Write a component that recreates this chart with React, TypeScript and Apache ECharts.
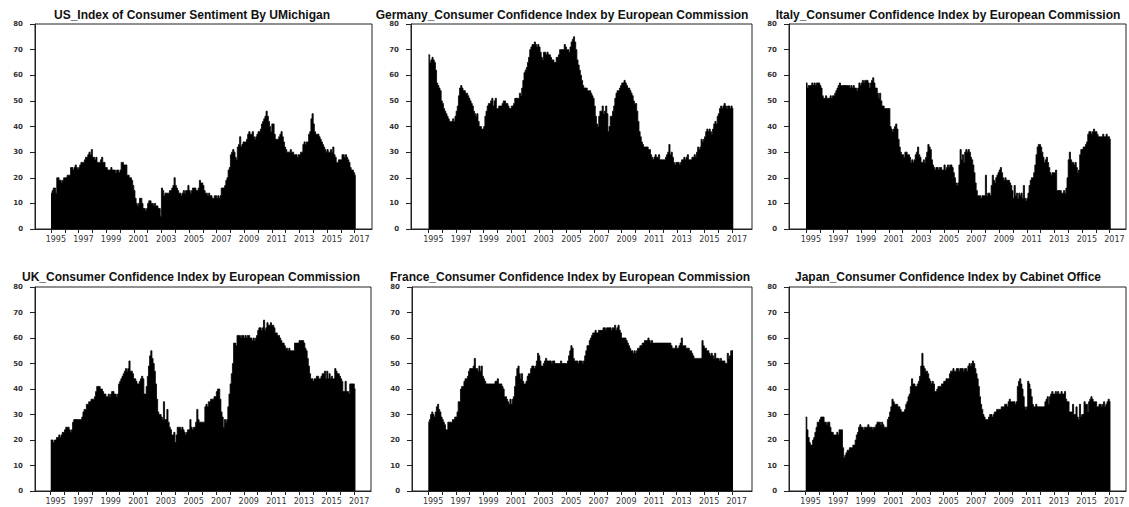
import React, { useEffect, useRef } from "react";
import * as echarts from "echarts";

const startYear = 1995;
const tickYears = [1995, 1996, 1997, 1998, 1999, 2000, 2001, 2002, 2003, 2004, 2005, 2006, 2007, 2008, 2009, 2010, 2011, 2012, 2013, 2014, 2015, 2016, 2017];
const labelYears = [1995, 1997, 1999, 2001, 2003, 2005, 2007, 2009, 2011, 2013, 2015, 2017];
const yTicks = [0, 10, 20, 30, 40, 50, 60, 70, 80];

const titles = [
  "US_Index of Consumer Sentiment By UMichigan",
  "Germany_Consumer Confidence Index by European Commission",
  "Italy_Consumer Confidence Index by European Commission",
  "UK_Consumer Confidence Index by European Commission",
  "France_Consumer Confidence Index by European Commission",
  "Japan_Consumer Confidence Index by Cabinet Office",
];

// monthly values, Jan 1995 .. Feb 2017
const usData = [
  14, 15, 16, 16, 14, 20, 20, 19, 19, 18, 19, 20,
  20, 20, 21, 21, 21, 24, 24, 23, 24, 25, 24, 23,
  24, 25, 26, 26, 26, 27, 28, 28, 29, 30, 29, 31,
  28, 28, 27, 28, 26, 26, 26, 27, 28, 26, 26, 24,
  24, 23, 23, 23, 24, 23, 23, 23, 22, 23, 23, 22,
  23, 26, 26, 25, 25, 25, 21, 21, 20, 20, 19, 17,
  15, 12, 10, 9, 10, 12, 12, 10, 8, 8, 7, 8,
  10, 11, 11, 10, 10, 9, 10, 9, 9, 8, 8, 5,
  16, 15, 13, 14, 14, 14, 14, 15, 15, 16, 17, 20,
  17, 16, 15, 14, 14, 13, 14, 15, 14, 15, 15, 17,
  15, 14, 15, 16, 16, 16, 15, 15, 16, 19, 18, 18,
  17, 15, 14, 14, 13, 14, 13, 13, 12, 12, 13, 13,
  12, 13, 12, 13, 16, 16, 16, 17, 19, 20, 23, 24,
  29, 30, 31, 30, 28, 27, 32, 33, 36, 32, 33, 34,
  34, 34, 35, 37, 38, 37, 37, 38, 36, 35, 36, 37,
  38, 38, 39, 41, 42, 43, 44, 46, 44, 42, 40, 38,
  41, 41, 37, 35, 35, 35, 36, 37, 38, 36, 34, 32,
  31, 30, 30, 30, 31, 30, 30, 29, 29, 29, 28, 29,
  29, 30, 30, 33, 34, 33, 34, 34, 37, 38, 43, 45,
  41, 38, 37, 37, 37, 36, 35, 34, 33, 32, 31, 30,
  31, 30, 30, 31, 30, 32, 29, 28, 26, 26, 27, 27,
  27, 29, 29, 28, 29, 28, 27, 26, 24, 23, 23, 22,
  21, 21,
];

const germanyData = [
  68, 65, 66, 67, 66, 65, 62, 57, 56, 55, 54, 50,
  49, 47, 46, 45, 44, 43, 42, 42, 42, 43, 42, 44,
  46, 48, 52, 55, 56, 55, 54, 54, 53, 53, 52, 51,
  50, 49, 48, 46, 45, 44, 45, 42, 40, 40, 39, 39,
  40, 44, 46, 48, 49, 49, 50, 51, 48, 50, 51, 47,
  47, 48, 48, 48, 49, 50, 50, 49, 49, 48, 47, 47,
  48, 48, 49, 51, 51, 51, 51, 53, 52, 55, 58, 61,
  62, 63, 65, 67, 70, 71, 72, 72, 73, 72, 71, 72,
  71, 69, 67, 66, 69, 69, 68, 69, 68, 68, 67, 66,
  66, 65, 65, 67, 67, 68, 70, 70, 70, 70, 72, 71,
  70, 70, 69, 71, 73, 74, 75, 73, 70, 66, 64, 62,
  60, 58, 56, 55, 55, 55, 54, 54, 54, 53, 52, 51,
  48, 44, 41, 40, 44, 46, 46, 48, 45, 46, 48, 45,
  38, 40, 44, 44, 46, 48, 51, 53, 54, 54, 55, 56,
  57, 57, 58, 57, 56, 55, 55, 54, 53, 52, 50, 49,
  49, 46, 42, 38, 36, 34, 33, 32, 32, 32, 32, 31,
  31, 29, 28, 27, 28, 29, 28, 28, 29, 27, 27, 27,
  27, 27, 28, 29, 30, 33, 29, 30, 28, 26, 25, 26,
  26, 26, 25, 26, 27, 27, 28, 27, 28, 29, 27, 27,
  27, 28, 28, 29, 28, 30, 32, 31, 32, 35, 34, 35,
  36, 38, 39, 38, 39, 38, 37, 39, 41, 42, 41, 44,
  45, 47, 48, 47, 48, 49, 48, 47, 48, 48, 47, 48,
  47, 47,
];

const italyData = [
  57, 55, 56, 56, 56, 57, 56, 57, 56, 57, 57, 57,
  56, 55, 52, 51, 51, 52, 51, 51, 51, 52, 51, 52,
  52, 53, 54, 55, 56, 57, 56, 56, 56, 56, 56, 56,
  56, 56, 55, 56, 55, 56, 55, 55, 54, 55, 57, 56,
  57, 58, 57, 58, 58, 58, 57, 55, 57, 58, 59, 57,
  55, 55, 53, 51, 53, 50, 48, 48, 47, 47, 47, 47,
  47, 40, 39, 38, 39, 40, 41, 39, 35, 32, 30, 29,
  29, 28, 30, 30, 29, 29, 28, 26, 27, 26, 27, 29,
  30, 32, 29, 28, 26, 26, 27, 26, 28, 30, 33, 32,
  31, 27, 25, 24, 23, 24, 24, 23, 24, 24, 23, 23,
  25, 23, 24, 25, 24, 25, 25, 24, 22, 20, 18, 17,
  18, 25, 31, 27, 29, 26, 30, 31, 30, 31, 30, 28,
  27, 25, 22, 18, 15, 13, 13, 13, 12, 13, 13, 13,
  21, 13, 14, 14, 13, 17, 21, 19, 18, 20, 21, 22,
  23, 24, 22, 20, 19, 20, 19, 19, 19, 18, 17, 15,
  12, 17, 13, 14, 12, 14, 13, 14, 12, 17, 12, 11,
  12, 14, 17, 19, 20, 20, 22, 25, 29, 32, 33, 33,
  32, 30, 28, 26, 27, 28, 26, 24, 22, 21, 22, 22,
  22, 23, 15, 15, 15, 15, 14, 14, 15, 14, 16, 20,
  27, 30, 27, 26, 26, 25, 26, 24, 22, 23, 29, 31,
  31, 32, 32, 33, 34, 37, 38, 38, 37, 38, 39, 38,
  38, 37, 36, 36, 36, 36, 37, 36, 36, 37, 36, 36,
  35, 35,
];

const ukData = [
  20, 20, 19, 20, 20, 21, 21, 22, 21, 22, 23, 23,
  24, 25, 25, 25, 24, 23, 24, 27, 28, 28, 28, 28,
  28, 28, 28, 29, 31, 32, 32, 34, 34, 35, 35, 36,
  36, 36, 37, 39, 41, 41, 41, 40, 40, 39, 38, 38,
  37, 37, 38, 37, 38, 39, 39, 38, 38, 37, 38, 42,
  43, 44, 45, 46, 47, 48, 47, 48, 51, 47, 47, 46,
  44, 44, 43, 42, 42, 43, 44, 45, 44, 38, 38, 41,
  45, 49, 53, 55, 52, 50, 47, 42, 36, 31, 30, 30,
  29, 28, 35, 28, 28, 32, 27, 25, 24, 22, 22, 23,
  19, 22, 25, 25, 25, 24, 25, 24, 23, 22, 23, 24,
  24, 28, 25, 24, 25, 25, 27, 32, 28, 27, 27, 27,
  27, 27, 33, 34, 33, 35, 35, 36, 36, 36, 37, 37,
  39, 40, 40, 36, 31, 29, 25, 28, 27, 28, 33, 38,
  42, 46, 50, 58, 58, 57, 61, 61, 61, 60, 61, 61,
  60, 61, 60, 61, 61, 60, 60, 59, 60, 59, 60, 61,
  63, 64, 64, 63, 64, 67, 63, 64, 66, 65, 65, 66,
  65, 65, 64, 62, 62, 61, 61, 60, 59, 58, 58, 57,
  56, 56, 55, 56, 55, 55, 55, 55, 58, 58, 58, 58,
  59, 59, 59, 59, 58, 56, 55, 52, 49, 46, 44, 44,
  43, 44, 44, 45, 45, 44, 44, 45, 46, 46, 47, 44,
  47, 44, 46, 44, 45, 44, 44, 48, 47, 46, 46, 45,
  44, 43, 39, 39, 43, 39, 39, 38, 42, 42, 42, 42,
  40, 40,
];

const franceData = [
  27, 28, 30, 31, 30, 29, 31, 33, 34, 32, 31, 29,
  28, 27, 26, 24, 24, 27, 27, 27, 27, 28, 28, 29,
  29, 31, 35, 35, 40, 41, 41, 43, 44, 44, 45, 47,
  48, 48, 48, 49, 52, 48, 48, 47, 49, 47, 49, 45,
  44, 43, 42, 42, 42, 42, 42, 42, 42, 42, 43, 43,
  44, 42, 42, 42, 41, 40, 37, 37, 36, 35, 34, 36,
  34, 36, 37, 41, 45, 48, 49, 46, 44, 46, 43, 42,
  42, 43, 45, 46, 46, 48, 49, 49, 48, 49, 51, 54,
  53, 51, 49, 49, 50, 51, 52, 51, 51, 51, 51, 50,
  51, 51, 50, 50, 50, 50, 50, 51, 50, 50, 50, 50,
  50, 51, 53, 55, 57, 56, 52, 51, 51, 51, 50, 51,
  51, 51, 50, 51, 53, 55, 57, 57, 59, 60, 61, 62,
  62, 63, 62, 62, 63, 63, 63, 63, 64, 64, 63, 64,
  64, 64, 64, 63, 64, 64, 65, 63, 64, 65, 63, 62,
  60, 60, 60, 60, 59, 58, 57, 56, 55, 55, 54, 55,
  54, 55, 56, 56, 57, 57, 58, 58, 59, 59, 59, 60,
  59, 58, 59, 58, 58, 58, 58, 58, 58, 58, 58, 58,
  58, 58, 58, 58, 58, 58, 58, 57, 56, 56, 56, 57,
  56, 56, 57, 58, 60, 57, 57, 57, 56, 56, 56, 55,
  55, 54, 53, 52, 52, 52, 52, 52, 52, 52, 59, 57,
  56, 56, 55, 55, 54, 53, 54, 53, 52, 54, 52, 52,
  52, 51, 52, 51, 51, 51, 50, 50, 54, 52, 53, 55,
  55, 55,
];

const japanData = [
  29, 24, 21, 19, 18, 18, 20, 21, 23, 25, 27, 27,
  28, 29, 29, 29, 27, 27, 26, 27, 27, 25, 23, 23,
  22, 22, 22, 23, 22, 24, 24, 24, 17, 13, 14, 15,
  16, 16, 17, 17, 17, 18, 18, 20, 22, 23, 25, 26,
  25, 25, 24, 25, 25, 25, 26, 25, 25, 25, 24, 25,
  25, 26, 27, 27, 27, 26, 27, 26, 25, 25, 25, 28,
  29, 31, 33, 36, 35, 34, 34, 34, 33, 33, 32, 31,
  31, 31, 32, 34, 35, 37, 38, 41, 44, 42, 42, 41,
  41, 42, 43, 45, 49, 54, 49, 48, 47, 47, 46, 44,
  43, 42, 43, 42, 39, 39, 40, 41, 41, 41, 42, 42,
  43, 43, 44, 44, 44, 46, 47, 47, 48, 47, 47, 48,
  48, 47, 48, 48, 48, 47, 48, 48, 47, 49, 50, 49,
  50, 51, 50, 48, 46, 44, 41, 37, 34, 32, 30, 29,
  28, 28, 28, 29, 30, 30, 29, 30, 31, 31, 32, 32,
  32, 32, 33, 33, 33, 34, 34, 33, 35, 36, 35, 35,
  35, 35, 34, 35, 41, 43, 44, 42, 40, 37, 33, 32,
  33, 43, 42, 40, 37, 34, 33, 33, 34, 33, 33, 33,
  33, 33, 33, 33, 35, 36, 37, 34, 37, 38, 39, 38,
  38, 39, 38, 39, 38, 38, 39, 38, 38, 39, 36, 35,
  35, 31, 31, 31, 34, 30, 30, 33, 29, 28, 34, 29,
  30, 30, 35, 34, 34, 31, 35, 36, 37, 36, 35, 35,
  35, 33, 33, 34, 34, 33, 34, 35, 33, 34, 35, 36,
  35, 35,
];

const seriesData = [usData, germanyData, italyData, ukData, franceData, japanData];

// layout of the six panels (pixels) and x-extent of each axis
const panels = [
  { left: 35, top: 24, width: 337, height: 205, xMin: 1993.84, xMax: 2018.26, titleX: 192, titleY: 15 },
  { left: 411, top: 24, width: 341, height: 205, xMin: 1993.73, xMax: 2018.44, titleX: 562, titleY: 15 },
  { left: 789, top: 24, width: 337, height: 205, xMin: 1993.77, xMax: 2018.19, titleX: 948, titleY: 15 },
  { left: 35, top: 287, width: 336, height: 204, xMin: 1993.86, xMax: 2018.21, titleX: 191, titleY: 277 },
  { left: 412, top: 287, width: 340, height: 204, xMin: 1993.82, xMax: 2018.46, titleX: 570, titleY: 277 },
  { left: 789, top: 287, width: 337, height: 204, xMin: 1993.79, xMax: 2018.21, titleX: 948, titleY: 277 },
];

const labelShift = 0.35;

export default function App() {
  const ref = useRef<HTMLDivElement>(null);
  useEffect(() => {
    if (!ref.current) return;
    const chart = echarts.init(ref.current, null, { renderer: "svg" });
    const axisColor = "#222";
    const option: any = {
      animation: false,
      backgroundColor: "#ffffff",
      grid: panels.map((p) => ({
        left: p.left,
        top: p.top,
        width: p.width,
        height: p.height,
        show: true,
        borderColor: axisColor,
        borderWidth: 1,
        backgroundColor: "transparent",
        containLabel: false,
      })),
      xAxis: panels.map((p, i) => ({
        type: "value",
        gridIndex: i,
        min: p.xMin,
        max: p.xMax,
        splitLine: { show: false },
        axisLine: { show: true, onZero: false, lineStyle: { color: axisColor, width: 1 } },
        axisTick: {
          show: true,
          length: 4,
          inside: false,
          customValues: tickYears,
          lineStyle: { color: axisColor },
        },
        axisLabel: {
          show: true,
          customValues: labelYears.map((y) => y + labelShift),
          formatter: (v: number) => String(Math.round(v - labelShift)),
          fontSize: 8,
          fontFamily: "DejaVu Sans",
          color: "#333",
          margin: 6,
        },
      })),
      yAxis: panels.map((p, i) => ({
        type: "value",
        gridIndex: i,
        min: 0,
        max: 80,
        interval: 10,
        splitLine: { show: false },
        axisLine: { show: true, lineStyle: { color: axisColor, width: 1 } },
        axisTick: { show: true, length: 5, lineStyle: { color: axisColor } },
        axisLabel: {
          show: true,
          fontSize: 7,
          fontWeight: "bold",
          fontFamily: "DejaVu Sans",
          color: "#333",
          margin: 12,
          customValues: yTicks,
        },
      })),
      series: seriesData.map((arr, i) => ({
        type: "line",
        xAxisIndex: i,
        yAxisIndex: i,
        step: "end",
        symbol: "none",
        data: arr.map((v, k) => [startYear + k / 12, v]),
        lineStyle: { color: "#000", width: 0.8 },
        areaStyle: { color: "#000", opacity: 1, origin: "start" },
        itemStyle: { color: "#000" },
      })),
      graphic: panels.map((p, i) => ({
        type: "text",
        x: p.titleX,
        y: p.titleY,
        style: {
          text: titles[i],
          textAlign: "center",
          textVerticalAlign: "middle",
          font: "bold 12px 'Liberation Sans', Arial, sans-serif",
          fill: "#111",
        },
      })),
    };
    chart.setOption(option);
    return () => chart.dispose();
  }, []);
  return (
    <div
      ref={ref}
      style={{ position: "absolute", left: 0, top: 0, width: 1129, height: 507, background: "#fff" }}
    />
  );
}
